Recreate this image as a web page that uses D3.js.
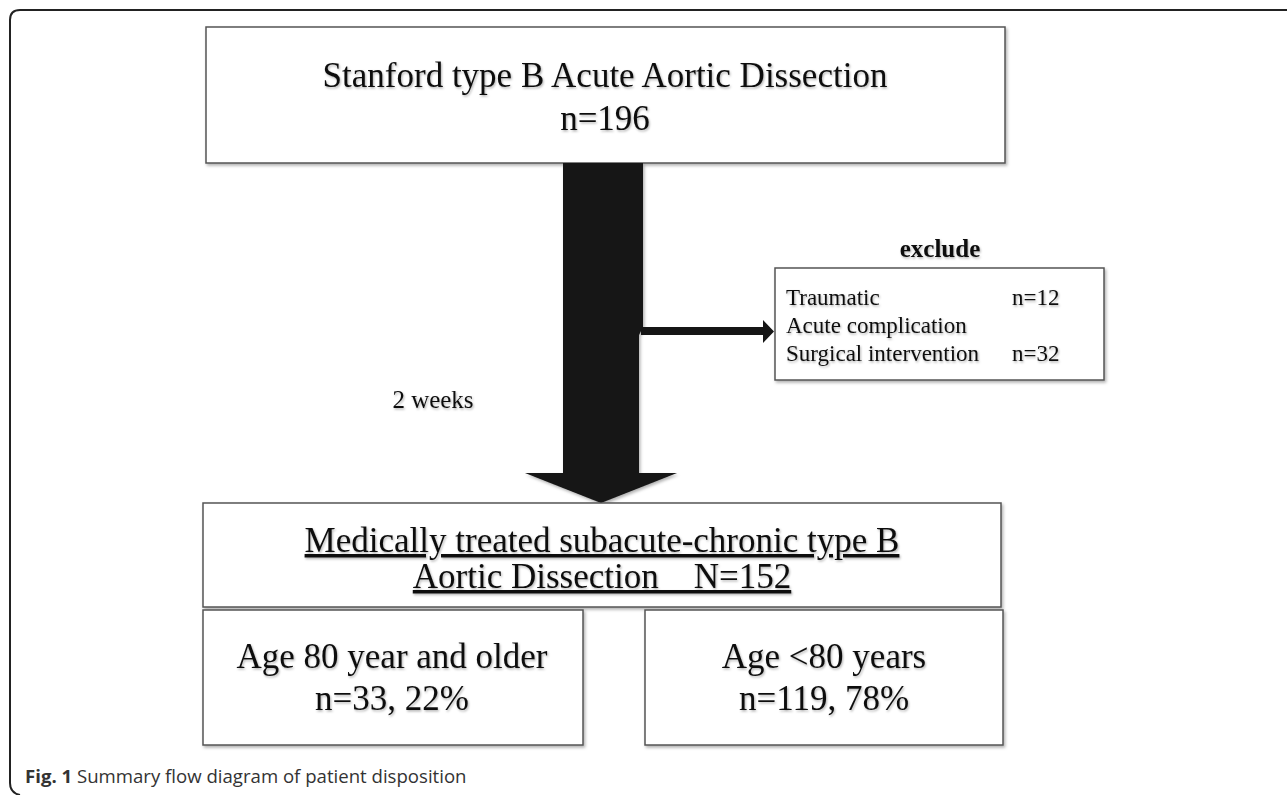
<!DOCTYPE html>
<html><head><meta charset="utf-8">
<script src="https://cdn.jsdelivr.net/npm/d3@7"></script>
<style>body{margin:0;background:#fff}svg{display:block}</style>
</head><body>
<script>
const topLines = ["Stanford type B Acute Aortic Dissection", "n=196"];
const intervalLabel = "2 weeks";
const excludeTitle = "exclude";
const excludeReasons = ["Traumatic", "Acute complication", "Surgical intervention"];
const excludeCounts = ["n=12", "", "n=32"];
const middleLines = ["Medically treated subacute-chronic type B", "Aortic Dissection\u00a0\u00a0\u00a0\u00a0N=152"];
const groupLabels = ["Age 80 year and older", "Age <80 years"];
const groupCounts = ["n=33, 22%", "n=119, 78%"];
const captionBold = "Fig. 1";
const captionText = " Summary flow diagram of patient disposition";

const W = 1287, H = 795;
const svg = d3.select("body").append("svg").attr("width", W).attr("height", H);
const defs = svg.append("defs");
const f = defs.append("filter").attr("id","sh").attr("x","-10%").attr("y","-10%").attr("width","130%").attr("height","130%");
f.append("feDropShadow").attr("dx",1.5).attr("dy",2).attr("stdDeviation",1.5).attr("flood-color","#000").attr("flood-opacity",0.3);
const ft = defs.append("filter").attr("id","tsh").attr("x","-5%").attr("y","-20%").attr("width","115%").attr("height","150%");
ft.append("feDropShadow").attr("dx",1).attr("dy",1.5).attr("stdDeviation",1.2).attr("flood-color","#000").attr("flood-opacity",0.3);

const serif = "'Liberation Serif','Times New Roman',serif";

// outer frame
svg.append("path")
  .attr("d", `M ${W+2} 10 L 20 10 Q 10 10 10 20 L 10 783 Q 10 793 20 795`)
  .attr("fill","none").attr("stroke","#222").attr("stroke-width",2);

function box(x,y,w,h){
  svg.append("rect").attr("x",x).attr("y",y).attr("width",w).attr("height",h)
    .attr("fill","#fff").attr("stroke","#555").attr("stroke-width",1.5).attr("filter","url(#sh)");
}
function texts(lines, cx, ys, size, opts={}){
  lines.forEach((t,i)=>{
    svg.append("text").attr("x",cx).attr("y",ys[i])
      .attr("text-anchor", opts.anchor||"middle")
      .attr("font-family",serif).attr("font-size",size)
      .attr("font-weight",opts.bold?"bold":"normal")
      .attr("fill","#111").attr("filter","url(#tsh)")
      .attr("text-decoration", opts.underline?"underline":null)
      .text(t);
  });
}

// top box
box(206,27,799,136);
texts(topLines, 605, [87,130], 35);

// main arrow
const shaft = d3.path();
shaft.moveTo(563,163); shaft.lineTo(643,163); shaft.lineTo(643,327); shaft.lineTo(639,335);
shaft.lineTo(639,473); shaft.lineTo(677,473); shaft.lineTo(601,503); shaft.lineTo(525,473);
shaft.lineTo(563,473); shaft.closePath();
svg.append("path").attr("d",shaft.toString()).attr("fill","#151515").attr("filter","url(#sh)");

// side arrow
const side = d3.path();
side.moveTo(641,327); side.lineTo(763,327); side.lineTo(763,320); side.lineTo(774,331.5);
side.lineTo(763,343); side.lineTo(763,335); side.lineTo(641,335); side.closePath();
svg.append("path").attr("d",side.toString()).attr("fill","#151515");

// exclude box
texts([excludeTitle], 940, [257], 25, {bold:true});
box(775,268,329,112);
const exY = [305,333,361];
excludeReasons.forEach((t,i)=>{
  texts([t], 786, [exY[i]], 23, {anchor:"start"});
});
const exX = [1012,null,1012];
excludeCounts.forEach((t,i)=>{ if(t) texts([t], exX[i], [exY[i]], 23, {anchor:"start"}); });

// 2 weeks
texts([intervalLabel], 433, [408], 25);

// middle box
box(203,503,798,104);
texts(middleLines, 602, [552,588], 35, {underline:true});

// group boxes
box(203,610,380,135);
box(645,610,358,135);
texts([groupLabels[0], groupCounts[0]], 392, [668,710], 35);
texts([groupLabels[1], groupCounts[1]], 824, [668,710], 35);

// caption
const cap = svg.append("text").attr("x",25).attr("y",783)
  .attr("font-family","'Open Sans',sans-serif").attr("font-size",18.6).attr("fill","#333");
cap.append("tspan").attr("font-weight","bold").text(captionBold);
cap.append("tspan").text(captionText);
</script>
</body></html>
